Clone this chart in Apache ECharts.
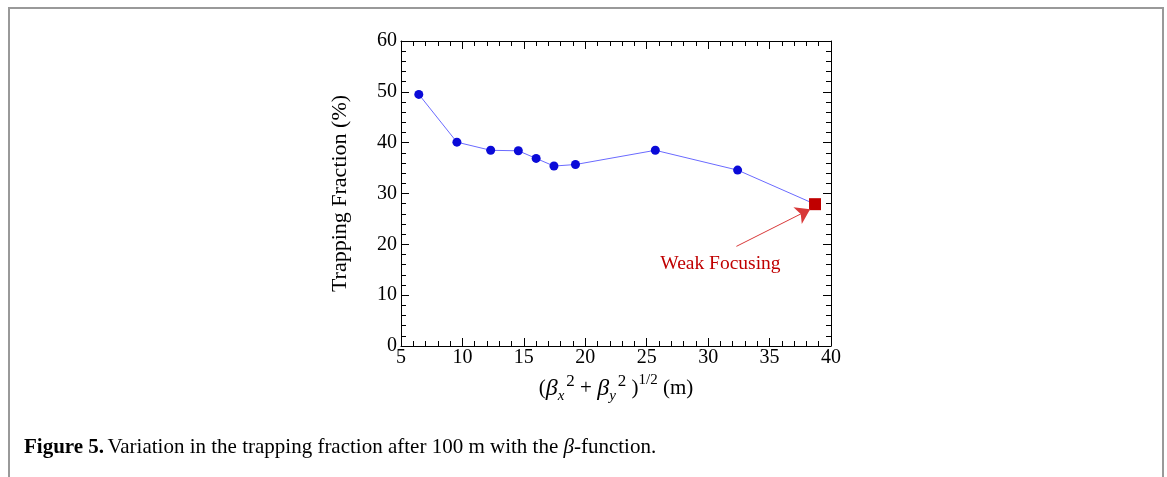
<!DOCTYPE html>
<html><head><meta charset="utf-8">
<script src="https://cdn.jsdelivr.net/npm/echarts@6/dist/echarts.min.js"></script>
<style>html,body{margin:0;padding:0;background:#fff}#c{width:1167px;height:477px}</style>
</head><body><div id="c"></div>
<script>
// Data
const betaValues = [6.45, 9.55, 12.3, 14.55, 16.0, 17.45, 19.2, 25.7, 32.4, 38.7];
const trapping   = [49.5, 40.1, 38.5, 38.4, 36.9, 35.4, 35.7, 38.5, 34.6, 27.9];
const weakFocusingIndex = 9;
const annotationText = 'Weak Focusing';
const arrowFrom = [32.3, 19.6];
const arrowTo = [38.3, 26.9];
const labelAt = [31.0, 16.1];
const xTicks = {min: 5, max: 40, interval: 5};
const yTicks = {min: 0, max: 60, interval: 10};

const serif = '"Liberation Serif", "DejaVu Serif", serif';
const chart = echarts.init(document.getElementById('c'), null, {renderer: 'canvas'});

const data = betaValues.map((x, i) => {
  const d = {value: [x, trapping[i]]};
  if (i === weakFocusingIndex) {
    d.symbol = 'rect';
    d.symbolSize = 12;
    d.itemStyle = {color: '#c00000'};
  }
  return d;
});

function axisCommon() {
  return {
    axisLine: {show: true, onZero: false, lineStyle: {color: '#000', width: 1}},
    axisTick: {show: true, inside: true, length: 8, lineStyle: {color: '#000'}},
    minorTick: {show: true, splitNumber: 5, length: 5, lineStyle: {color: '#000'}},
    splitLine: {show: false}
  };
}

chart.setOption({
  animation: false,
  grid: {left: 401, right: 336, top: 41, bottom: 131, containLabel: false},
  xAxis: [
    Object.assign({type: 'value', position: 'bottom', min: xTicks.min, max: xTicks.max, interval: xTicks.interval,
      axisLabel: {color: '#000', fontFamily: serif, fontSize: 20, margin: 2},
      name: '{p|(}{b|β}{sub|x}{sup|2}{p| + }{b|β}{sub|y}{sup|2}{p| )}{sup2|1/2}{p| (m)}',
      nameLocation: 'middle', nameGap: 25,
      nameTextStyle: {rich: {
        p: {fontFamily: serif, fontSize: 21, color: '#000'},
        b: {fontFamily: serif, fontSize: 24, fontStyle: 'italic', color: '#000'},
        sub: {fontFamily: serif, fontSize: 15, fontStyle: 'italic', color: '#000', verticalAlign: 'bottom', padding: [16, 2, 0, 0]},
        sup: {fontFamily: serif, fontSize: 17, color: '#000', verticalAlign: 'top', padding: [0, 0, 12, 0]},
        sup2: {fontFamily: serif, fontSize: 15, color: '#000', verticalAlign: 'top', padding: [0, 0, 12, 0]}
      }}
    }, axisCommon()),
    Object.assign({type: 'value', position: 'top', min: xTicks.min, max: xTicks.max, interval: xTicks.interval,
      axisLabel: {show: false}}, axisCommon())
  ],
  yAxis: [
    Object.assign({type: 'value', position: 'left', min: yTicks.min, max: yTicks.max, interval: yTicks.interval,
      axisLabel: {color: '#000', fontFamily: serif, fontSize: 20, margin: 4},
      name: 'Trapping Fraction (%)', nameLocation: 'middle', nameGap: 50, nameRotate: 90,
      nameTextStyle: {fontFamily: serif, fontSize: 22, color: '#000'}
    }, axisCommon()),
    Object.assign({type: 'value', position: 'right', min: yTicks.min, max: yTicks.max, interval: yTicks.interval,
      axisLabel: {show: false}}, axisCommon())
  ],
  series: [{
    type: 'line',
    data: data,
    symbol: 'circle',
    symbolSize: 9,
    itemStyle: {color: '#0a0ad8'},
    lineStyle: {color: '#6a6aff', width: 1},
    z: 3,
    markLine: {
      silent: true,
      symbol: ['none', 'arrow'],
      symbolSize: 14,
      label: {show: false},
      lineStyle: {color: '#d83838', width: 1, type: 'solid'},
      emphasis: {disabled: true},
      data: [[{coord: arrowFrom}, {coord: arrowTo}]]
    },
    markPoint: {
      silent: true,
      symbol: 'rect', symbolSize: 1,
      itemStyle: {color: 'rgba(0,0,0,0)'},
      label: {show: true, formatter: annotationText, color: '#c00000', fontFamily: serif, fontSize: 19.5, position: 'inside'},
      data: [{coord: labelAt}]
    }
  }],
  graphic: [
    {type: 'polyline', shape: {points: [[9, 480], [9, 8], [1163, 8], [1163, 480]]},
      style: {stroke: '#999', lineWidth: 2, fill: null}},
    {type: 'text', left: 24, top: 437,
      style: {
        text: '{b|Figure 5.} {n|Variation in the trapping fraction after 100 m with the }{i|β}{n|-function.}',
        rich: {
          b: {fontFamily: serif, fontSize: 21, fontWeight: 'bold', fill: '#000'},
          n: {fontFamily: serif, fontSize: 21, fill: '#000'},
          i: {fontFamily: serif, fontSize: 21, fontStyle: 'italic', fill: '#000'}
        }
      }}
  ]
});
</script></body></html>
